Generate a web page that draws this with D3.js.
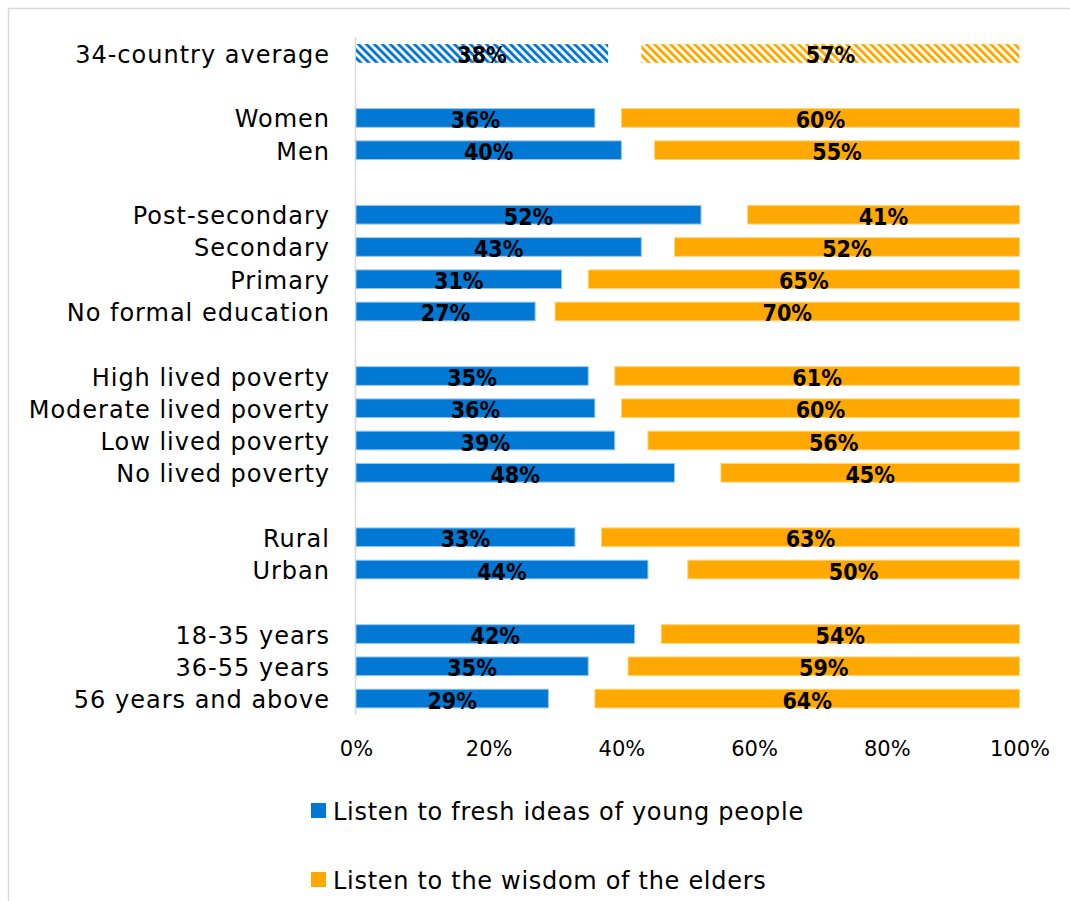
<!DOCTYPE html>
<html>
<head>
<meta charset="utf-8">
<script src="https://cdn.jsdelivr.net/npm/d3@7"></script>
<style>
  html, body { margin: 0; padding: 0; background: #fff; }
  svg { display: block; }
  .cat { font-family: "DejaVu Sans", sans-serif; font-size: 24px; letter-spacing: 1px; fill: #000; }
  .tick-label { font-family: "DejaVu Sans", sans-serif; font-size: 21px; fill: #000; }
  .val { font-family: "DejaVu Sans Condensed", "DejaVu Sans", sans-serif; font-stretch: condensed; font-weight: bold; font-size: 23px; fill: #000; }
  .legend-text { font-family: "DejaVu Sans", sans-serif; font-size: 24px; letter-spacing: 0.7px; fill: #000; }
</style>
</head>
<body>
<script>
// Survey rows, grouped by breakdown; blank gaps separate the groups
const categories = [
  "34-country average",
  "Women", "Men",
  "Post-secondary", "Secondary", "Primary", "No formal education",
  "High lived poverty", "Moderate lived poverty", "Low lived poverty", "No lived poverty",
  "Rural", "Urban",
  "18-35 years", "36-55 years", "56 years and above"
];
const groups = [0, 1, 1, 2, 2, 2, 2, 3, 3, 3, 3, 4, 4, 5, 5, 5];
const youngIdeas = [38, 36, 40, 52, 43, 31, 27, 35, 36, 39, 48, 33, 44, 42, 35, 29];
const eldersWisdom = [57, 60, 55, 41, 52, 65, 70, 61, 60, 56, 45, 63, 50, 54, 59, 64];
const xTicks = [0, 20, 40, 60, 80, 100];
const seriesNames = ["Listen to fresh ideas of young people", "Listen to the wisdom of the elders"];
const seriesColors = ["#0078d4", "#ffa800"];
const seriesStrokes = ["#9cc6ee", "#ffd680"];

const W = 1070, H = 901;
const svg = d3.select("body").append("svg").attr("width", W).attr("height", H);

// Hatch patterns for the average row
const defs = svg.append("defs");
seriesColors.forEach((c, i) => {
  const p = defs.append("pattern")
    .attr("id", "hatch" + i)
    .attr("patternUnits", "userSpaceOnUse")
    .attr("width", 5.66).attr("height", 5.66)
    .attr("patternTransform", "rotate(-45)");
  p.append("rect").attr("width", 5.66).attr("height", 5.66).attr("fill", "#fff");
  p.append("rect").attr("width", 2.9).attr("height", 5.66).attr("fill", c);
});

// Outer frame
svg.append("rect")
  .attr("x", 8.5).attr("y", 8.5)
  .attr("width", W).attr("height", H)
  .attr("fill", "none").attr("stroke", "#d9d9d9").attr("stroke-width", 1.5);

// Row slots with spacer slots between groups
const slots = [];
categories.forEach((c, i) => {
  if (i > 0 && groups[i] !== groups[i - 1]) slots.push("__gap" + i);
  slots.push(c);
});

const x = d3.scaleLinear().domain([0, 100]).range([356, 1019.5]);
const y = d3.scaleBand().domain(slots).range([37, 715])
  .paddingInner(0.42).paddingOuter(0.22);

// Category axis line
svg.append("line")
  .attr("x1", 355.5).attr("x2", 355.5)
  .attr("y1", 37).attr("y2", 715)
  .attr("stroke", "#d9d9d9").attr("stroke-width", 1.5);

const rows = categories.map((c, i) => ({
  cat: c, young: youngIdeas[i], elders: eldersWisdom[i], avg: i === 0
}));

const g = svg.append("g");

// Young people bars start at 0%
g.selectAll("rect.young").data(rows).join("rect")
  .attr("class", "young")
  .attr("x", x(0))
  .attr("y", d => y(d.cat))
  .attr("width", d => x(d.young) - x(0))
  .attr("height", y.bandwidth())
  .attr("fill", d => d.avg ? "url(#hatch0)" : seriesColors[0])
  .attr("stroke", d => d.avg ? "none" : seriesStrokes[0])
  .attr("stroke-width", 1);

// Elders bars end at 100%
g.selectAll("rect.elders").data(rows).join("rect")
  .attr("class", "elders")
  .attr("x", d => x(100 - d.elders))
  .attr("y", d => y(d.cat))
  .attr("width", d => x(100) - x(100 - d.elders))
  .attr("height", y.bandwidth())
  .attr("fill", d => d.avg ? "url(#hatch1)" : seriesColors[1])
  .attr("stroke", d => d.avg ? "none" : seriesStrokes[1])
  .attr("stroke-width", 1);

// Value labels
const mid = d => y(d.cat) + y.bandwidth() / 2;
g.selectAll("text.vy").data(rows).join("text")
  .attr("class", "val vy")
  .attr("text-anchor", "middle")
  .attr("x", d => (x(0) + x(d.young)) / 2)
  .attr("y", d => mid(d) + 10)
  .text(d => d.young + "%");

g.selectAll("text.ve").data(rows).join("text")
  .attr("class", "val ve")
  .attr("text-anchor", "middle")
  .attr("x", d => (x(100 - d.elders) + x(100)) / 2)
  .attr("y", d => mid(d) + 10)
  .text(d => d.elders + "%");

// Category labels
g.selectAll("text.cat").data(rows).join("text")
  .attr("class", "cat")
  .attr("text-anchor", "end")
  .attr("x", 330)
  .attr("y", d => mid(d) + 9.5)
  .text(d => d.cat);

// Percentage axis
const xAxis = d3.axisBottom(x).tickValues(xTicks).tickFormat(d => d + "%").tickSize(0).tickPadding(0);
const ax = svg.append("g").attr("transform", "translate(0,715)").call(xAxis);
ax.select(".domain").remove();
ax.selectAll("text")
  .attr("class", "tick-label")
  .attr("y", 41).attr("dy", null)
  .attr("font-family", null).attr("font-size", null);

// Legend
const legendY = [803, 872];
seriesNames.forEach((name, i) => {
  svg.append("rect")
    .attr("x", 311).attr("y", legendY[i])
    .attr("width", 15).attr("height", 15)
    .attr("fill", seriesColors[i]);
  svg.append("text")
    .attr("class", "legend-text")
    .attr("x", 333).attr("y", legendY[i] + 16.5)
    .text(name);
});
</script>
</body>
</html>
